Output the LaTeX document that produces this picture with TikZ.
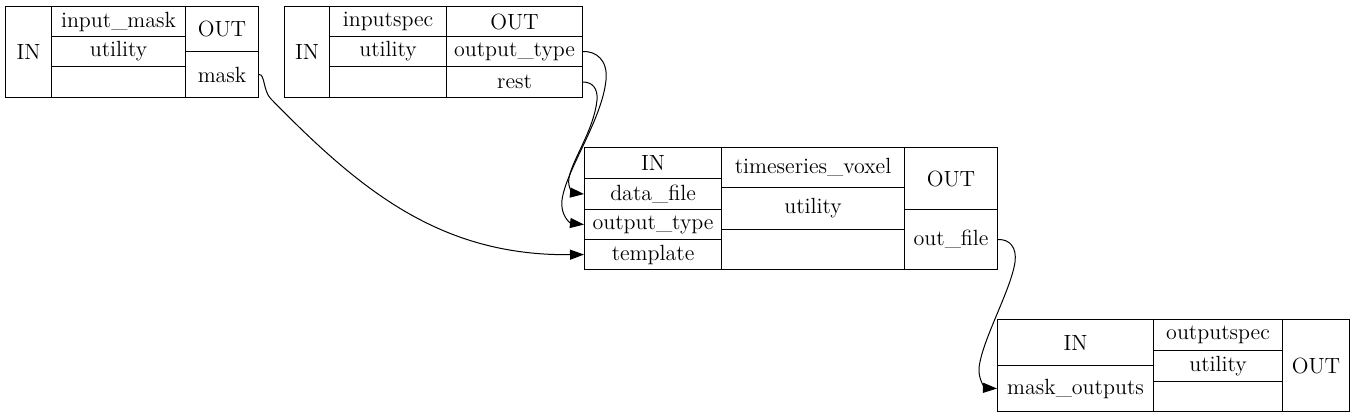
\documentclass[tikz,border=0pt]{standalone}
\usetikzlibrary{arrows.meta}
\tikzset{
  cell/.style 2 args={draw, line width=0.55pt, inner sep=0pt, anchor=north west,
    minimum width=#1, minimum height=#2},
  link/.style={line width=0.5pt, -{Triangle[length=7pt,width=5pt]}}
}
\begin{document}
\begin{tikzpicture}[x=0.5pt, y=-0.5pt, font=\fontsize{11}{13}\selectfont]
    \useasboundingbox (0,0) rectangle (1355,417);
    \node[cell={23pt}{45.5pt}] (A-in) at (5,6) {IN};
    \node[cell={67pt}{15pt}] (A-name) at (51,6) {input\_mask};
    \node[cell={67pt}{15pt}] (A-util) at (51,36) {utility};
    \node[cell={67pt}{15.5pt}] (A-none) at (51,66) {};
    \node[cell={36.5pt}{22.5pt}] (A-out) at (185,6) {OUT};
    \node[cell={36.5pt}{23pt}] (A-mask) at (185,51) {mask};

    \node[cell={22.5pt}{45.5pt}] (B-in) at (284,6) {IN};
    \node[cell={58.5pt}{15pt}] (B-name) at (329,6) {inputspec};
    \node[cell={58.5pt}{15pt}] (B-util) at (329,36) {utility};
    \node[cell={58.5pt}{15.5pt}] (B-none) at (329,66) {};
    \node[cell={68pt}{15pt}] (B-out) at (446,6) {OUT};
    \node[cell={68pt}{15pt}] (B-type) at (446,36) {output\_type};
    \node[cell={68pt}{15.5pt}] (B-rest) at (446,66) {rest};

    \node[cell={68.5pt}{15.5pt}] (C-in) at (584,147) {IN};
    \node[cell={68.5pt}{15.5pt}] (C-data) at (584,178) {data\_file};
    \node[cell={68.5pt}{15pt}] (C-type) at (584,209) {output\_type};
    \node[cell={68.5pt}{15pt}] (C-tmpl) at (584,239) {template};
    \node[cell={91.5pt}{20pt}] (C-name) at (721,147) {timeseries\_voxel};
    \node[cell={91.5pt}{21pt}] (C-util) at (721,187) {utility};
    \node[cell={91.5pt}{20pt}] (C-none) at (721,229) {};
    \node[cell={46.5pt}{31pt}] (C-out) at (904,147) {OUT};
    \node[cell={46.5pt}{30pt}] (C-file) at (904,209) {out\_file};

    \node[cell={78pt}{23pt}] (D-in) at (997,319) {IN};
    \node[cell={78pt}{23pt}] (D-mask) at (997,365) {mask\_outputs};
    \node[cell={64.5pt}{15.5pt}] (D-name) at (1153,319) {outputspec};
    \node[cell={64.5pt}{15.5pt}] (D-util) at (1153,350) {utility};
    \node[cell={64.5pt}{15pt}] (D-none) at (1153,381) {};
    \node[cell={33.5pt}{46pt}] (D-out) at (1282,319) {OUT};

    \draw[link] (A-mask.east) .. controls (265,74) and (263,91) .. (271,99)
        .. controls (360,190) and (440,256) .. (C-tmpl.west);
    \draw[link] (B-type.east) .. controls (596,51) and (608,60) .. (606,80)
        .. controls (602,120) and (566,170) .. (562,200)
        .. controls (560,215) and (570,223) .. (C-type.west);
    \draw[link] (B-rest.east) .. controls (592,82) and (598,88) .. (597,100)
        .. controls (594,130) and (572,160) .. (569,178)
        .. controls (567,188) and (574,193) .. (C-data.west);
    \draw[link] (C-file.east) .. controls (1010,239) and (1017,248) .. (1015,262)
        .. controls (1011,290) and (982,340) .. (979,368)
        .. controls (978,380) and (986,388) .. (D-mask.west);
\end{tikzpicture}
\end{document}
